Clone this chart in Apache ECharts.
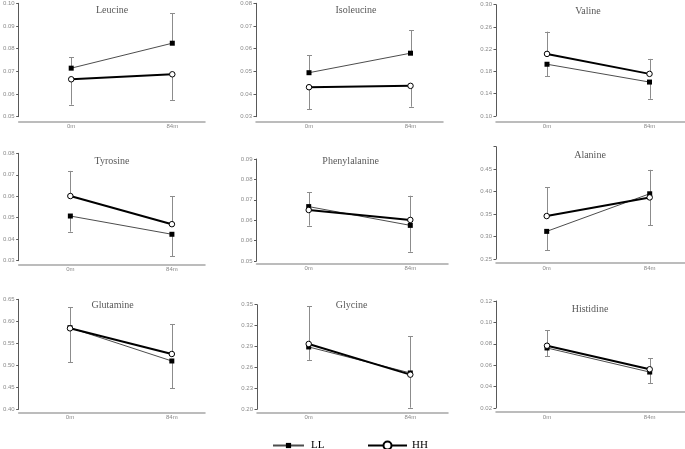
<!DOCTYPE html>
<html>
<head>
<meta charset="utf-8">
<script src="https://cdn.jsdelivr.net/npm/echarts@6/dist/echarts.min.js"></script>
<style>
html,body{margin:0;padding:0;background:#fff;}
#chart{width:685px;height:449px;}
</style>
</head>
<body>
<div id="chart"></div>
<script>
// ---------------- DATA ----------------
const categories = ['0m', '84m'];
const aminoAcids = ['Leucine', 'Isoleucine', 'Valine', 'Tyrosine', 'Phenylalanine', 'Alanine', 'Glutamine', 'Glycine', 'Histidine'];

const llValues = [
  [0.0714, 0.0824], [0.0494, 0.0580], [0.193, 0.161],
  [0.0508, 0.0423], [0.0700, 0.0631], [0.3115, 0.3952],
  [0.5855, 0.5098], [0.2894, 0.2521], [0.0761, 0.0536]
];
const hhValues = [
  [0.0665, 0.0687], [0.0430, 0.0436], [0.2116, 0.1757],
  [0.0601, 0.0470], [0.06875, 0.0651], [0.3456, 0.3871],
  [0.584, 0.5257], [0.2937, 0.2497], [0.0782, 0.0562]
];
// end points of the (one-sided) error bars
const llErrorEnds = [
  [0.0762, 0.0956], [0.0572, 0.0682], [0.1716, 0.1309],
  [0.0435, 0.0321], [0.0753, 0.0534], [0.2693, 0.4485],
  [0.6325, 0.4477], [0.2708, 0.3048], [0.0686, 0.0434]
];
const hhErrorEnds = [
  [0.0553, 0.0574], [0.0333, 0.0344], [0.2516, 0.2026],
  [0.0718, 0.0600], [0.0630, 0.0740], [0.4093, 0.3249],
  [0.5068, 0.5939], [0.3478, 0.2023], [0.0926, 0.0667]
];
const yMin = [0.05, 0.03, 0.10, 0.03, 0.05, 0.25, 0.40, 0.20, 0.02];
const yStep = [0.01, 0.01, 0.04, 0.01, 0.0075, 0.05, 0.05, 0.03, 0.02];
// tick labels, bottom to top
const yTickLabels = [
  ['0.05', '0.06', '0.07', '0.08', '0.09', '0.10'],
  ['0.03', '0.04', '0.05', '0.06', '0.07', '0.08'],
  ['0.10', '0.14', '0.18', '0.22', '0.26', '0.30'],
  ['0.03', '0.04', '0.05', '0.06', '0.07', '0.08'],
  ['0.05', '0.06', '0.06', '0.07', '0.08', '0.09'],
  ['0.25', '0.30', '0.35', '0.40', '0.45', ''],
  ['0.40', '0.45', '0.50', '0.55', '0.60', '0.65'],
  ['0.20', '0.23', '0.26', '0.29', '0.32', '0.35'],
  ['0.02', '0.04', '0.06', '0.08', '0.10', '0.12']
];

// ---------------- LAYOUT (pixels) ----------------
const gridLeft   = [17, 256, 496, 17.5, 256.5, 496, 18, 257, 496];
const gridTop    = [3.3, 3.3, 4.7, 153.3, 159, 146.7, 299.3, 304.7, 301];
const gridRightX = [205, 443, 685, 205, 448, 685, 205, 448, 685];
const gridBottom = [116.7, 116.7, 116, 260.7, 261, 259, 409.3, 409.3, 408];
const cat0X      = [70, 309, 547, 69.5, 308.7, 546.7, 69.5, 308.7, 547];
const cat1X      = [172, 410.5, 649.5, 171.7, 410.3, 649.7, 171.7, 410.3, 649.7];
const xAxisOff   = [4.6, 4.6, 5.3, 3.6, 2.3, 4, 3.4, 3, 4];
const titleX     = [112, 356, 588, 112, 350.7, 590, 112.7, 351.7, 590];
const titleY     = [10.7, 10.7, 11.3, 161.7, 161.7, 155, 305.7, 305, 309];

const axisLabelColor = '#8a8a8a';
const yAxisColor = '#595959';
const xAxisColor = '#a6a6a6';
const errColor = '#8c8c8c';

function errorRender(params, api) {
  const x = api.value(0), v = api.value(1), e = api.value(2);
  const p1 = api.coord([x, v]);
  const p2 = api.coord([x, e]);
  const cx = Math.round(p1[0]) + 0.5;
  return {
    type: 'group',
    children: [
      { type: 'line', shape: { x1: cx, y1: p1[1], x2: cx, y2: p2[1] }, style: { stroke: errColor, lineWidth: 1 } },
      { type: 'line', shape: { x1: cx - 2.5, y1: Math.round(p2[1]) + 0.5, x2: cx + 2.5, y2: Math.round(p2[1]) + 0.5 }, style: { stroke: errColor, lineWidth: 1 } }
    ]
  };
}

const grids = [], xAxes = [], yAxes = [], series = [], graphics = [];
aminoAcids.forEach((name, i) => {
  const span = cat1X[i] - cat0X[i];
  grids.push({
    left: gridLeft[i], top: gridTop[i],
    width: gridRightX[i] - gridLeft[i], height: gridBottom[i] - gridTop[i],
    containLabel: false
  });
  xAxes.push({
    type: 'value', gridIndex: i,
    min: -(cat0X[i] - gridLeft[i]) / span,
    max: 1 + (gridRightX[i] - cat1X[i]) / span,
    offset: xAxisOff[i],
    axisLine: { show: true, onZero: false, lineStyle: { color: xAxisColor, width: 1.5 } },
    axisTick: { show: false },
    splitLine: { show: false },
    axisLabel: {
      customValues: categories.map((c, k) => k),
      formatter: v => categories[Math.round(v)],
      color: axisLabelColor, fontSize: 6, fontFamily: 'Liberation Sans', margin: 2
    }
  });
  const labels = yTickLabels[i];
  const ticks = labels.map((l, k) => yMin[i] + k * yStep[i]);
  yAxes.push({
    type: 'value', gridIndex: i,
    min: yMin[i], max: ticks[ticks.length - 1],
    axisLine: { show: true, onZero: false, lineStyle: { color: yAxisColor, width: 1 } },
    axisTick: { show: true, length: 2.5, customValues: ticks, lineStyle: { color: yAxisColor } },
    splitLine: { show: false },
    axisLabel: {
      customValues: ticks,
      formatter: v => labels[Math.round((v - yMin[i]) / yStep[i])],
      color: axisLabelColor, fontSize: 6, fontFamily: 'Liberation Sans', margin: 4,
      showMinLabel: true, showMaxLabel: true
    }
  });
  series.push({
    type: 'custom', xAxisIndex: i, yAxisIndex: i, z: 1, silent: true,
    renderItem: errorRender, encode: { x: 0, y: 1 },
    data: categories.map((c, k) => [k, llValues[i][k], llErrorEnds[i][k]])
  });
  series.push({
    type: 'custom', xAxisIndex: i, yAxisIndex: i, z: 1, silent: true,
    renderItem: errorRender, encode: { x: 0, y: 1 },
    data: categories.map((c, k) => [k, hhValues[i][k], hhErrorEnds[i][k]])
  });
  series.push({
    name: 'LL', type: 'line', xAxisIndex: i, yAxisIndex: i, z: 3,
    data: categories.map((c, k) => [k, llValues[i][k]]),
    symbol: 'rect', symbolSize: 5,
    lineStyle: { color: '#4d4d4d', width: 1 },
    itemStyle: { color: '#000', borderColor: '#000', borderWidth: 0 },
    animation: false
  });
  series.push({
    name: 'HH', type: 'line', xAxisIndex: i, yAxisIndex: i, z: 4,
    data: categories.map((c, k) => [k, hhValues[i][k]]),
    symbol: 'circle', symbolSize: 5.5, showAllSymbol: true,
    lineStyle: { color: '#000', width: 2 },
    itemStyle: { color: '#fff', borderColor: '#000', borderWidth: 1 },
    animation: false
  });
  graphics.push({
    type: 'text', x: titleX[i], y: titleY[i],
    style: { text: name, align: 'center', verticalAlign: 'middle', fill: '#595959', font: '10px "Liberation Serif"' }
  });
});

const chart = echarts.init(document.getElementById('chart'), null, { renderer: 'canvas' });
chart.setOption({
  animation: false,
  backgroundColor: '#fff',
  grid: grids,
  xAxis: xAxes,
  yAxis: yAxes,
  series: series,
  graphic: graphics,
  legend: [
    {
      data: ['LL'], left: 272, top: 440, itemWidth: 31, itemHeight: 6.5, padding: 0,
      textStyle: { color: '#000', fontSize: 11, fontFamily: 'Liberation Serif', padding: [0, 0, 0, 2] },
      selectedMode: false
    },
    {
      data: ['HH'], left: 367, top: 440, itemWidth: 39, itemHeight: 10, padding: 0,
      textStyle: { color: '#000', fontSize: 11, fontFamily: 'Liberation Serif' },
      selectedMode: false
    }
  ]
});
</script>
</body>
</html>
